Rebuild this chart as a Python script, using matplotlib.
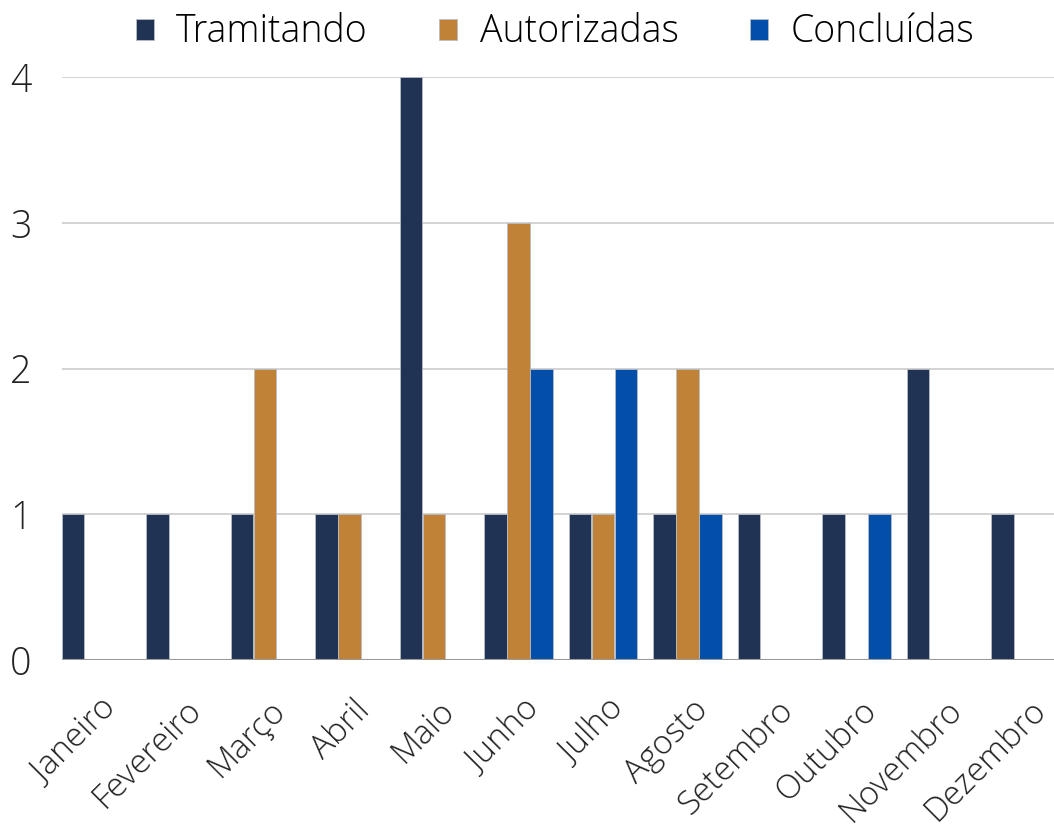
import matplotlib.pyplot as plt
from matplotlib.patches import Patch
import numpy as np

plt.rcParams['font.family'] = ['Open Sans', 'DejaVu Sans']

months = ['Janeiro', 'Fevereiro', 'Março', 'Abril', 'Maio', 'Junho',
          'Julho', 'Agosto', 'Setembro', 'Outubro', 'Novembro', 'Dezembro']
series_names = ['Tramitando', 'Autorizadas', 'Concluídas']
tramitando = [1, 1, 1, 1, 4, 1, 1, 1, 1, 1, 2, 1]
autorizadas = [0, 0, 2, 1, 1, 3, 1, 2, 0, 0, 0, 0]
concluidas = [0, 0, 0, 0, 0, 2, 2, 1, 0, 1, 0, 0]
colors = ['#203354', '#c08237', '#034ea8']

fig = plt.figure(figsize=(10.54, 8.32), dpi=100)
ax = fig.add_axes([62 / 1054, 1 - 660 / 832, 1 - 62 / 1054, (660 - 77) / 832])

x = np.arange(len(months))
bar_w = 0.262
step = 0.272
for k, vals in enumerate([tramitando, autorizadas, concluidas]):
    ax.bar(x - 0.4 + k * step, vals, width=bar_w, align='edge',
           color=colors[k], edgecolor='#b8bcc4', linewidth=0.6, zorder=3)

ax.set_xlim(-0.4, 11.34)
ax.set_ylim(0, 4)
ax.set_yticks([0, 1, 2, 3, 4])
ax.yaxis.grid(True, color='#cccccc', linewidth=1.2, zorder=0)
ax.axhline(0, color='#999999', linewidth=1.5, zorder=4)
for s in ax.spines.values():
    s.set_visible(False)
ax.tick_params(axis='both', length=0, colors='#222222')
ax.tick_params(axis='y', pad=22, labelsize=27)
ax.tick_params(axis='x', pad=24, labelsize=24)
ax.set_xticks(x + 0.05)
ax.set_xticklabels(months, rotation=45, ha='right', rotation_mode='anchor',
                   fontweight='light')
for t in ax.get_yticklabels():
    t.set_fontweight('light')

handles = [Patch(facecolor=c, edgecolor='#b8bcc4', linewidth=0.6) for c in colors]
fig.legend(handles, series_names, loc='upper center', bbox_to_anchor=(555 / 1054, 1.025),
           ncol=3, frameon=False, handlelength=0.48, handleheight=0.48,
           handletextpad=0.6, columnspacing=1.9, prop={'weight': 'light', 'size': 27})

fig.savefig('out.png', dpi=100)
